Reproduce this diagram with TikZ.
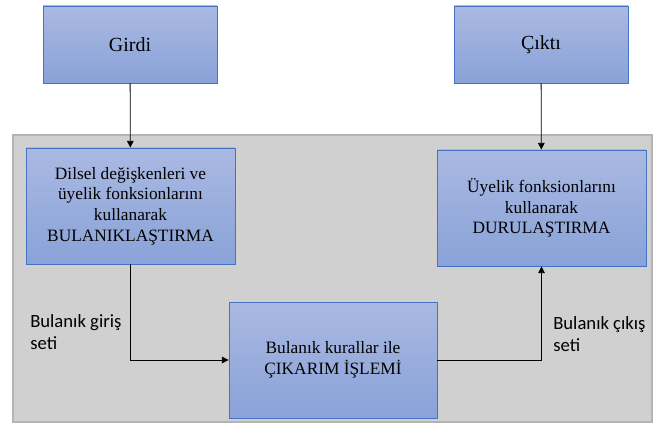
\documentclass[tikz,border=0pt]{standalone}
\usepackage{fontspec}
\setmainfont{Liberation Serif}
\newfontfamily\tnr{Liberation Serif}
\newfontfamily\calib{Carlito}
\usetikzlibrary{arrows.meta}
\definecolor{kenar}{RGB}{68,114,196}
\definecolor{ustrenk}{RGB}{170,185,226}
\definecolor{altrenk}{RGB}{137,162,216}
\definecolor{zemin}{RGB}{208,208,208}
\definecolor{zeminkenar}{RGB}{180,180,180}
\begin{document}
\begin{tikzpicture}[x=0.75pt,y=-0.75pt,>={Triangle[length=5pt,width=5pt]},
  kutu/.style={draw=kenar,line width=0.7pt,top color=ustrenk,bottom color=altrenk,
    align=center,inner sep=0pt,font=\tnr\fontsize{13}{15.5}\selectfont},
  ok/.style={->,line width=0.6pt},
  etiket/.style={align=left,anchor=north west,inner sep=0pt,font=\calib\fontsize{14}{16.5}\selectfont}]
\useasboundingbox (0,0) rectangle (655,423);
\draw[fill=zemin,draw=zeminkenar,line width=1pt] (13,135) rectangle (652,422); % arka plan
\node[kutu,minimum width=130.5pt,minimum height=57.75pt,font=\tnr\fontsize{15}{18}\selectfont] (girdi) at (130,44.5) {Girdi};
\node[kutu,minimum width=130.5pt,minimum height=57.75pt,font=\tnr\fontsize{15}{18}\selectfont] (cikti) at (541,44.5) {Çıktı};
\node[kutu,minimum width=156.75pt,minimum height=87pt] (bulan) at (130.5,206) {Dilsel değişkenleri ve\\üyelik fonksionlarını\\kullanarak\\BULANIKLAŞTIRMA};
\node[kutu,minimum width=156.75pt,minimum height=87pt] (durul) at (541.5,208) {Üyelik fonksionlarını\\kullanarak\\DURULAŞTIRMA};
\node[kutu,minimum width=156pt,minimum height=87pt] (cikarim) at (333,360) {Bulanık kurallar ile\\ÇIKARIM İŞLEMİ};
\draw[ok] (girdi)--(bulan);
\draw[ok] (cikti)--(durul);
\draw[ok] (bulan.south)|-(cikarim.west);
\draw[ok] (cikarim.east)-|(durul.south);
\node[etiket] (girisseti) at (30,314) {Bulanık giriş\\seti};
\node[etiket] (cikisseti) at (553,316) {Bulanık çıkış\\seti};
\end{tikzpicture}
\end{document}
